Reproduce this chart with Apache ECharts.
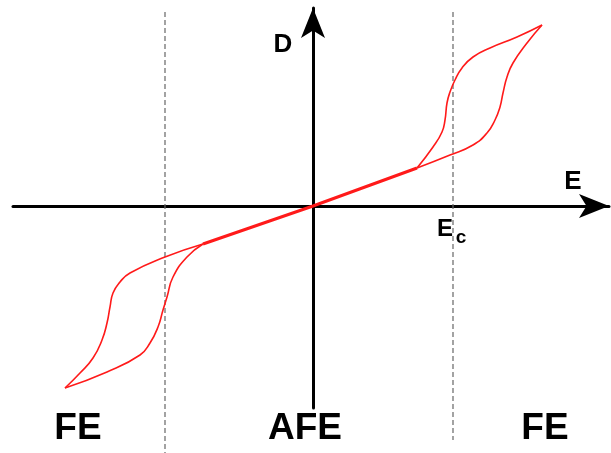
<!DOCTYPE html>
<html>
<head>
<meta charset="utf-8">
<script src="https://cdn.jsdelivr.net/npm/echarts@6/dist/echarts.min.js"></script>
<style>
  html, body { margin: 0; padding: 0; background: #fff; }
  #chart { width: 611px; height: 453px; }
</style>
</head>
<body>
<div id="chart"></div>
<script>
// linear AFE part through the origin
var linearPart = [[-1.10, -0.38], [0, 0], [1.04, 0.38]];

// positive field double loop (two branches)
var upperLoopA = [[1.04, 0.38], [1.20, 0.59], [1.29, 0.74], [1.32, 0.86], [1.34, 1.03], [1.37, 1.14],
    [1.42, 1.26], [1.49, 1.38], [1.60, 1.49], [1.77, 1.58], [2.04, 1.69], [2.29, 1.81]];
var upperLoopB = [[1.04, 0.38], [1.37, 0.51], [1.60, 0.61], [1.74, 0.73], [1.82, 0.86], [1.87, 0.99],
    [1.90, 1.13], [1.94, 1.29], [2.00, 1.43], [2.14, 1.63], [2.29, 1.81]];

// negative field loop
var lowerLoopA = [[-1.10, -0.38], [-1.48, -0.51], [-1.83, -0.67], [-1.93, -0.76], [-2.00, -0.87],
    [-2.03, -1.01], [-2.06, -1.17], [-2.11, -1.34], [-2.20, -1.52], [-2.33, -1.67], [-2.48, -1.82]];
var lowerLoopB = [[-1.10, -0.38], [-1.26, -0.51], [-1.40, -0.71], [-1.46, -0.91], [-1.50, -1.04],
    [-1.55, -1.21], [-1.63, -1.37], [-1.73, -1.49], [-2.06, -1.66], [-2.48, -1.82]];

// phase boundaries (Ec)
var leftBoundary = [[-1.48, 1.94], [-1.48, -2.47]];
var rightBoundary = [[1.40, 1.94], [1.40, -2.34]];

var phaseLabels = ['FE', 'AFE', 'FE'];

var chart = echarts.init(document.getElementById('chart'));

function loop(data) {
    return {
        type: 'line',
        data: data,
        smooth: 0.5,
        showSymbol: false,
        lineStyle: { color: '#ff1a1a', width: 1.6 },
        z: 3
    };
}

function boundary(data) {
    return {
        type: 'line',
        data: data,
        clip: false,
        showSymbol: false,
        lineStyle: { color: '#666', width: 1.2, type: [5, 3] },
        z: 1
    };
}

var axisStyle = {
    show: true,
    onZero: true,
    symbol: ['none', 'arrow'],
    symbolSize: [18, 30],
    lineStyle: { color: '#000', width: 3 }
};

var option = {
    backgroundColor: '#fff',
    animation: false,
    grid: { left: 13, right: 2, top: 8, bottom: 45 },
    xAxis: {
        type: 'value', min: -3, max: 2.96,
        axisLine: axisStyle,
        axisTick: { show: false },
        axisLabel: { show: false },
        splitLine: { show: false }
    },
    yAxis: {
        type: 'value', min: -2.02, max: 1.98,
        axisLine: axisStyle,
        axisTick: { show: false },
        axisLabel: { show: false },
        splitLine: { show: false }
    },
    series: [
        boundary(leftBoundary),
        boundary(rightBoundary),
        {
            type: 'line',
            data: linearPart,
            showSymbol: false,
            lineStyle: { color: '#ff1a1a', width: 3 },
            z: 4
        },
        loop(upperLoopA),
        loop(upperLoopB),
        loop(lowerLoopA),
        loop(lowerLoopB)
    ],
    graphic: [
        { type: 'text', x: 283, y: 45, style: { text: 'D', font: 'bold 26px "Liberation Sans", Arial', fill: '#000', align: 'center', verticalAlign: 'middle' } },
        { type: 'text', x: 573, y: 182, style: { text: 'E', font: 'bold 26px "Liberation Sans", Arial', fill: '#000', align: 'center', verticalAlign: 'middle' } },
        { type: 'text', x: 445, y: 229, style: { text: 'E', font: 'bold 24px "Liberation Sans", Arial', fill: '#000', align: 'center', verticalAlign: 'middle' } },
        { type: 'text', x: 461, y: 238, style: { text: 'c', font: 'bold 19px "Liberation Sans", Arial', fill: '#000', align: 'center', verticalAlign: 'middle' } },
        { type: 'text', x: 78, y: 429, style: { text: phaseLabels[0], font: 'bold 37px "Liberation Sans", Arial', fill: '#000', align: 'center', verticalAlign: 'middle' } },
        { type: 'text', x: 305, y: 429, style: { text: phaseLabels[1], font: 'bold 37px "Liberation Sans", Arial', fill: '#000', align: 'center', verticalAlign: 'middle' } },
        { type: 'text', x: 545, y: 429, style: { text: phaseLabels[2], font: 'bold 37px "Liberation Sans", Arial', fill: '#000', align: 'center', verticalAlign: 'middle' } }
    ]
};

chart.setOption(option);
</script>
</body>
</html>
